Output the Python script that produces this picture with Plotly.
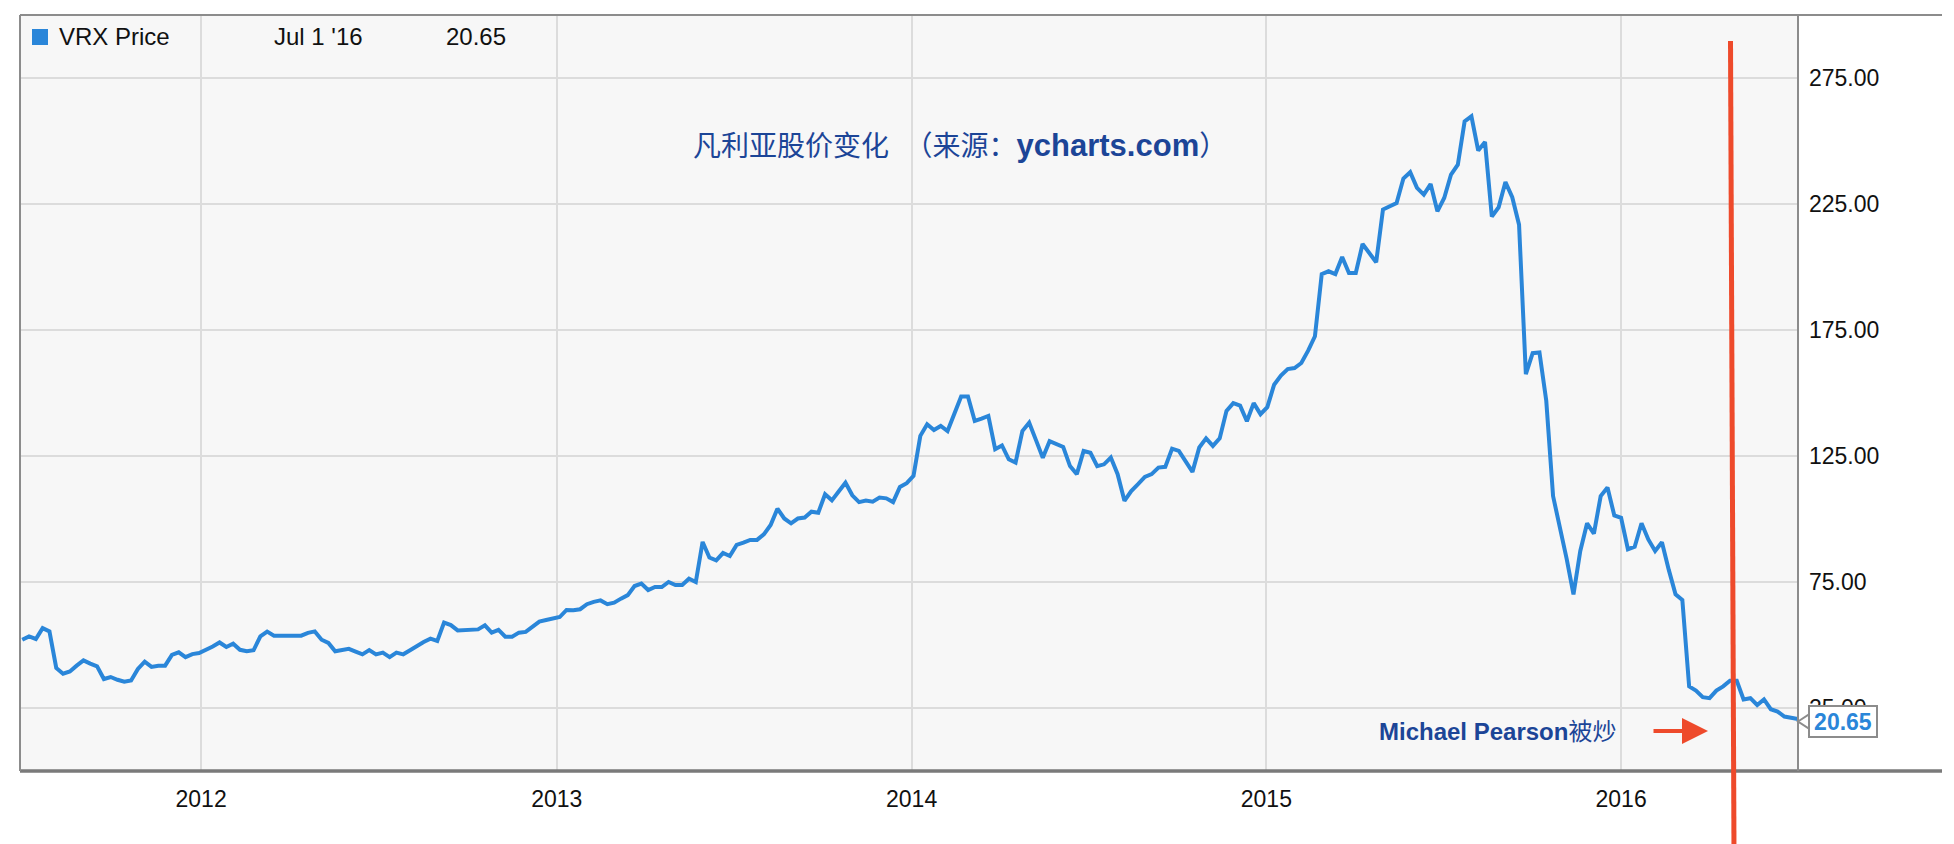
import pandas as pd
import plotly.graph_objects as go

# ---- data (weekly closes) ----
start_date = "2011-07-01"
week_no = [
    0, 1, 2, 3, 4, 5, 6, 7, 8, 9, 10, 11, 12, 13, 14, 15, 16, 17, 18, 19,
    20, 21, 22, 23, 24, 25, 26, 27, 28, 29, 30, 31, 32, 33, 34, 35, 36, 37, 38, 39,
    40, 41, 42, 43, 44, 45, 46, 48, 49, 50, 51, 52, 53, 54, 55, 56, 57, 58, 59, 60,
    61, 62, 63, 64, 65, 66, 67, 68, 69, 70, 71, 72, 73, 74, 75, 76, 77, 78, 79, 80,
    81, 82, 83, 84, 85, 86, 87, 88, 89, 90, 91, 92, 93, 94, 95, 96, 97, 98, 99, 100,
    101, 102, 103, 104, 105, 106, 107, 108, 109, 110, 111, 112, 113, 114, 115, 116, 117, 118, 119, 120,
    121, 122, 123, 124, 125, 126, 127, 128, 129, 130, 131, 132, 133, 134, 135, 136, 137, 138, 139, 140,
    141, 142, 143, 144, 145, 146, 147, 148, 149, 150, 151, 152, 153, 154, 155, 156, 157, 158, 159, 160,
    161, 162, 163, 164, 165, 166, 167, 168, 169, 170, 171, 172, 173, 174, 175, 176, 177, 178, 179, 180,
    181, 182, 183, 184, 185, 186, 187, 188, 189, 190, 191, 192, 193, 194, 195, 196, 197, 198, 199, 200,
    201, 202, 203, 204, 205, 206, 207, 208, 209, 210, 211, 212, 213, 214, 215, 216, 217, 218, 219, 220,
    221, 222, 223, 224, 225, 226, 227, 228, 229, 230, 231, 232, 233, 234, 235, 236, 237, 238, 239, 240,
    241, 242, 243, 244, 245, 246, 247, 248, 249, 250, 251, 252, 253, 254, 255, 256, 257, 258, 259, 261,
]
vrx_price = [
    52.1, 53.4, 52.4, 56.7, 55.4, 40.9, 38.6, 39.5, 41.8, 43.9, 42.6, 41.5, 36.5, 37.3, 36.2, 35.4, 35.9, 40.5, 43.4, 41.3,
    41.8, 41.8, 46.1, 47.1, 45.2, 46.4, 46.8, 47.9, 49.4, 51.0, 49.2, 50.5, 48.1, 47.5, 47.9, 53.4, 55.3, 53.7, 53.7, 53.7,
    53.8, 53.7, 54.8, 55.4, 52.1, 50.8, 47.5, 48.5, 47.4, 46.3, 48.0, 46.3, 47.0, 45.2, 47.0, 46.3, 47.9, 49.6, 51.2, 52.5,
    51.6, 58.9, 57.9, 55.8, 55.8, 56.2, 56.2, 57.8, 54.9, 56.0, 53.3, 53.3, 54.9, 55.2, 57.5, 59.3, 59.9, 60.5, 61.1, 63.9,
    63.8, 64.2, 66.2, 67.1, 67.7, 66.2, 66.8, 68.4, 69.8, 73.4, 74.4, 71.8, 73.0, 73.0, 75.0, 73.8, 73.8, 76.3, 75.0, 90.9,
    84.7, 83.6, 86.5, 85.3, 89.7, 90.6, 91.7, 91.7, 93.9, 97.6, 104.1, 100.2, 98.3, 100.2, 100.6, 102.9, 102.5, 109.8, 107.4, 110.9,
    114.4, 109.4, 106.7, 107.3, 106.9, 108.5, 108.2, 106.7, 112.7, 114.2, 117.1, 133.0, 137.6, 135.3, 136.9, 134.9, 142.2, 148.6, 148.6, 138.9,
    139.8, 140.9, 127.7, 129.2, 123.7, 122.4, 134.9, 138.2, 131.3, 124.3, 130.9, 129.6, 128.6, 121.0, 117.8, 127.0, 126.3, 121.0, 121.7, 124.4,
    117.8, 107.2, 111.1, 113.8, 116.7, 117.8, 120.4, 120.7, 127.9, 127.0, 123.0, 118.7, 128.4, 132.0, 129.0, 132.0, 142.9, 146.0, 145.0, 138.8,
    146.0, 141.6, 144.4, 153.3, 156.9, 159.5, 159.9, 161.9, 166.8, 172.5, 197.2, 198.3, 197.2, 204.0, 197.6, 197.6, 209.1, 205.5, 201.9, 222.8,
    224.1, 225.4, 235.1, 237.6, 231.4, 228.7, 232.9, 222.1, 227.4, 236.7, 240.6, 257.8, 259.8, 246.2, 249.6, 220.0, 223.7, 233.7, 227.7, 216.8,
    157.5, 165.8, 166.1, 146.9, 109.1, 97.1, 84.2, 70.1, 87.3, 98.3, 94.2, 109.1, 112.5, 101.4, 100.5, 88.0, 89.0, 98.3, 91.9, 87.3,
    90.8, 79.9, 70.1, 67.9, 33.6, 31.9, 29.3, 28.9, 31.9, 33.6, 35.8, 35.8, 28.4, 28.9, 26.2, 28.4, 24.5, 23.6, 21.6, 20.65,
]
year_ticks = ["2012-01-01", "2013-01-01", "2014-01-01", "2015-01-01", "2016-01-01"]
year_labels = ["2012", "2013", "2014", "2015", "2016"]
price_ticks = [25, 75, 125, 175, 225, 275]

series_name = "VRX Price"
last_label = "Jul 1 '16"
title_text = ("凡利亚股价变化\u00a0\u00a0（来源："
              "<span style='font-size:31px'><b>ycharts.com</b></span>）")
note_text = "<b>Michael Pearson</b>被炒"

dates = pd.Timestamp(start_date) + pd.to_timedelta([w * 7 for w in week_no], unit="D")
last_date = dates[-1]
last_val = vrx_price[-1]

# ---- styling ----
W, H = 1954, 844
BODY = 8                      # default page margin of the html body
PL, PR, PT, PB = 20, 1798, 15, 771   # plot box in screen pixels
ML, MT = PL - BODY, PT - BODY
MR = W - (PR - BODY)
MB = H - (PB - BODY)
PW, PH = PR - PL, PB - PT
BLUE = "#2a86d9"
NAVY = "#1c4597"
RED = "#ee4a2b"
FRAME = "#8c8c8c"
GRID = "#dcdcdc"
FONT = "Liberation Sans, Arial, Noto Sans CJK SC, sans-serif"


def px_x(px):
    return (px - PL) / PW


def px_y(py):
    return (PB - py) / PH


fig = go.Figure()
fig.add_trace(go.Scatter(
    x=dates, y=vrx_price, mode="lines", name=series_name,
    line=dict(color=BLUE, width=4), showlegend=False, hoverinfo="skip",
))

fig.update_layout(
    width=W, height=H, autosize=False,
    margin=dict(l=ML, r=MR, t=MT, b=MB, pad=0),
    paper_bgcolor="white", plot_bgcolor="#f7f7f7",
    font=dict(family=FONT, size=23, color="#111111"),
    showlegend=False,
    xaxis=dict(
        type="date",
        range=[pd.Timestamp(start_date) - pd.Timedelta(days=2.3), last_date],
        tickvals=year_ticks, ticktext=year_labels,
        showgrid=True, gridcolor=GRID, gridwidth=2,
        zeroline=False, showline=False, ticks="",
        ticklabelstandoff=12,
        tickfont=dict(size=23, color="#111111"),
        fixedrange=True,
    ),
    yaxis=dict(
        side="right", range=[0, 300],
        tickvals=price_ticks, tickformat=".2f",
        showgrid=True, gridcolor=GRID, gridwidth=2,
        zeroline=False, showline=False, ticks="",
        ticklabelstandoff=10,
        tickfont=dict(size=23, color="#111111"),
        fixedrange=True,
    ),
)

x_far = px_x(1942)
shapes = [
    # frame
    dict(type="line", xref="paper", yref="paper", x0=0, x1=x_far, y0=1, y1=1,
         line=dict(color=FRAME, width=2)),
    dict(type="line", xref="paper", yref="paper", x0=0, x1=x_far, y0=0, y1=0,
         line=dict(color="#7a7a7a", width=3.5)),
    dict(type="line", xref="paper", yref="paper", x0=0, x1=0, y0=0, y1=1,
         line=dict(color=FRAME, width=2)),
    dict(type="line", xref="paper", yref="paper", x0=1, x1=1, y0=0, y1=1,
         line=dict(color=FRAME, width=2)),
    # legend square
    dict(type="rect", xref="paper", yref="paper",
         x0=px_x(32), x1=px_x(48), y0=px_y(45), y1=px_y(29),
         line=dict(width=0), fillcolor=BLUE),
    # red marker line
    dict(type="line", xref="paper", yref="paper",
         x0=px_x(1730.5), x1=px_x(1734), y0=px_y(41), y1=px_y(852),
         line=dict(color=RED, width=5)),
    # notch of the value box
    dict(type="path", xref="paper", yref="y",
         path=f"M 1.0,{last_val - 1.0} L {px_x(1812)},{last_val + 2.6} L {px_x(1812)},{last_val - 4.6} Z",
         fillcolor="white", line=dict(color=FRAME, width=2)),
]
fig.update_layout(shapes=shapes)

annotations = [
    dict(xref="paper", yref="paper", x=px_x(57), y=px_y(37), xanchor="left", yanchor="middle",
         text=series_name, showarrow=False, font=dict(size=24, color="#111111")),
    dict(xref="paper", yref="paper", x=px_x(272), y=px_y(37), xanchor="left", yanchor="middle",
         text=last_label, showarrow=False, font=dict(size=24, color="#111111")),
    dict(xref="paper", yref="paper", x=px_x(444), y=px_y(37), xanchor="left", yanchor="middle",
         text=f"{last_val:.2f}", showarrow=False, font=dict(size=24, color="#111111")),
    dict(xref="paper", yref="paper", x=px_x(960), y=px_y(146), xanchor="center", yanchor="middle",
         text=title_text, showarrow=False, font=dict(size=28, color=NAVY)),
    dict(xref="paper", yref="paper", x=px_x(1618), y=px_y(731), xanchor="right", yanchor="middle",
         text=note_text, showarrow=False, font=dict(size=24, color=NAVY)),
    dict(xref="paper", yref="paper", x=px_x(1708), y=px_y(731), text="", showarrow=True,
         ax=-56, ay=0, arrowhead=2, arrowsize=1.3, arrowwidth=4, arrowcolor=RED, standoff=0),
    dict(xref="paper", yref="y", x=1.0, y=last_val, xanchor="left", yanchor="middle",
         xshift=10, yshift=-3,
         text=f"<b>{last_val:.2f}</b>", showarrow=False,
         font=dict(size=23, color=BLUE),
         bgcolor="white", bordercolor=FRAME, borderwidth=2, borderpad=1,
         width=64, height=27),
]
fig.update_layout(annotations=annotations)

fig.write_html("out.html", config={"displayModeBar": False})
